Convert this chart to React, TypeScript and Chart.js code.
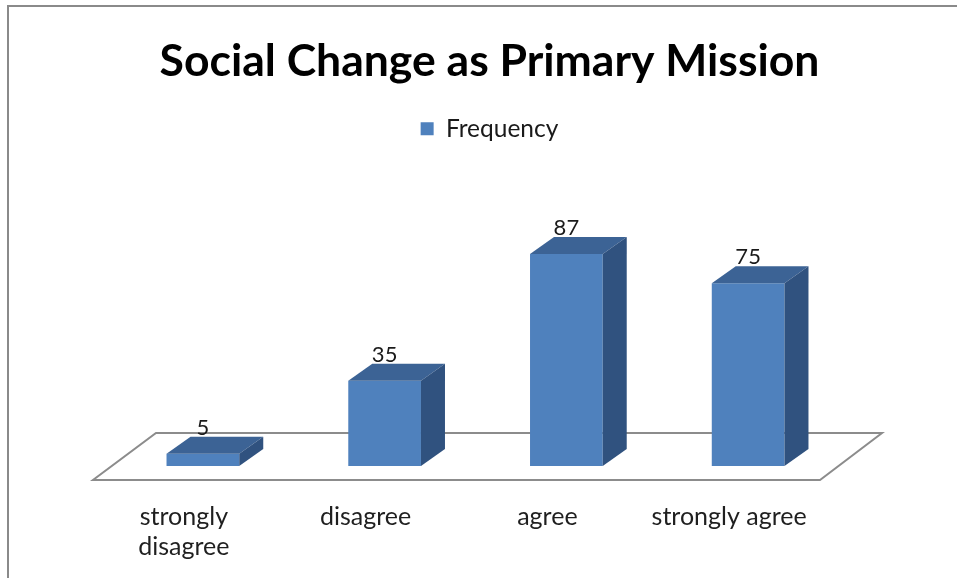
import React, { useEffect, useRef } from "react";
import { Chart, registerables } from "chart.js";

Chart.register(...registerables);

const categories: (string | string[])[] = [["strongly", "disagree"], "disagree", "agree", "strongly agree"];
const frequency: number[] = [5, 35, 87, 75];
const seriesName = "Frequency";
const titleText = "Social Change as Primary Mission";

const FRONT = "#4F81BD";
const TOP = "#3C6395";
const SIDE = "#30527F";
const FONT = "Lato, 'Open Sans', sans-serif";

const depthPlugin = {
  id: "depth3d",
  beforeDraw(chart: any) {
    const ctx = chart.ctx;
    ctx.save();
    ctx.strokeStyle = "#8a8a8a";
    ctx.lineWidth = 2;
    ctx.beginPath();
    ctx.moveTo(8, chart.height + 10);
    ctx.lineTo(8, 6);
    ctx.lineTo(chart.width + 10, 6);
    ctx.stroke();
    ctx.restore();
  },
  beforeDatasetsDraw(chart: any) {
    const ctx = chart.ctx;
    const xs = chart.scales.x;
    const ys = chart.scales.y;
    const base = ys.getPixelForValue(0);
    const fy = base + 14;
    const by = base - 33;
    ctx.save();
    ctx.strokeStyle = "#8c8c8c";
    ctx.lineWidth = 2;
    ctx.beginPath();
    ctx.moveTo(xs.left - 19, fy);
    ctx.lineTo(xs.right - 19, fy);
    ctx.lineTo(xs.right + 43, by);
    ctx.lineTo(xs.left + 44, by);
    ctx.closePath();
    ctx.stroke();
    ctx.restore();
  },
  afterDatasetsDraw(chart: any) {
    const ctx = chart.ctx;
    const meta = chart.getDatasetMeta(0);
    const dx = 24;
    const dy = 17;
    ctx.save();
    meta.data.forEach((bar: any, i: number) => {
      const { x, y, base, width } = bar.getProps(["x", "y", "base", "width"], true);
      const x0 = x - width / 2;
      const x1 = x + width / 2;
      ctx.fillStyle = TOP;
      ctx.beginPath();
      ctx.moveTo(x0, y);
      ctx.lineTo(x1, y);
      ctx.lineTo(x1 + dx, y - dy);
      ctx.lineTo(x0 + dx, y - dy);
      ctx.closePath();
      ctx.fill();
      ctx.fillStyle = SIDE;
      ctx.beginPath();
      ctx.moveTo(x1, y);
      ctx.lineTo(x1 + dx, y - dy);
      ctx.lineTo(x1 + dx, base - dy);
      ctx.lineTo(x1, base);
      ctx.closePath();
      ctx.fill();
      ctx.fillStyle = "#1a1a1a";
      ctx.font = `22px ${FONT}`;
      ctx.textAlign = "center";
      ctx.textBaseline = "middle";
      ctx.fillText(String(frequency[i]), x, y - 26);
    });
    ctx.restore();
  },
};

export default function App() {
  const ref = useRef<HTMLCanvasElement>(null);
  useEffect(() => {
    if (!ref.current) return;
    const chart = new Chart(ref.current, {
      type: "bar",
      data: {
        labels: categories,
        datasets: [
          {
            label: seriesName,
            data: frequency,
            backgroundColor: FRONT,
            borderWidth: 0,
            categoryPercentage: 0.8,
            barPercentage: 0.5,
          },
        ],
      },
      options: {
        animation: false,
        responsive: false,
        layout: { padding: { left: 22, right: 0, top: 0, bottom: 0 } },
        plugins: {
          title: {
            display: true,
            text: titleText,
            color: "#000",
            font: { family: FONT, size: 44.5, weight: "bold" },
            padding: { top: 35, bottom: 25 },
          },
          legend: {
            display: true,
            labels: {
              color: "#1a1a1a",
              font: { family: FONT, size: 24.5 },
              boxWidth: 13,
              boxHeight: 13,
              padding: 3,
            },
          },
          tooltip: { enabled: false },
        },
        scales: {
          x: {
            grid: { display: false },
            border: { display: false },
            ticks: {
              color: "#1f1f1f",
              font: { family: FONT, size: 25, lineHeight: 1.2 },
              labelOffset: -19,
              padding: 28,
              maxRotation: 0,
              autoSkip: false,
            },
            afterFit: (s: any) => {
              s.height = 112;
            },
          },
          y: {
            min: 0,
            max: 129.3,
            grid: { display: false },
            border: { display: false },
            ticks: { display: false },
            afterFit: (s: any) => {
              s.width = 90;
            },
          },
          yR: {
            position: "right",
            grid: { display: false },
            border: { display: false },
            ticks: { display: false },
            afterFit: (s: any) => {
              s.width = 118;
            },
          },
        },
      },
      plugins: [depthPlugin],
    });
    return () => chart.destroy();
  }, []);
  return (
    <div style={{ position: "absolute", left: 0, top: 0, width: 957, height: 578, overflow: "hidden", background: "#fff" }}>
      <canvas ref={ref} width={957} height={578} style={{ display: "block" }} />
    </div>
  );
}
